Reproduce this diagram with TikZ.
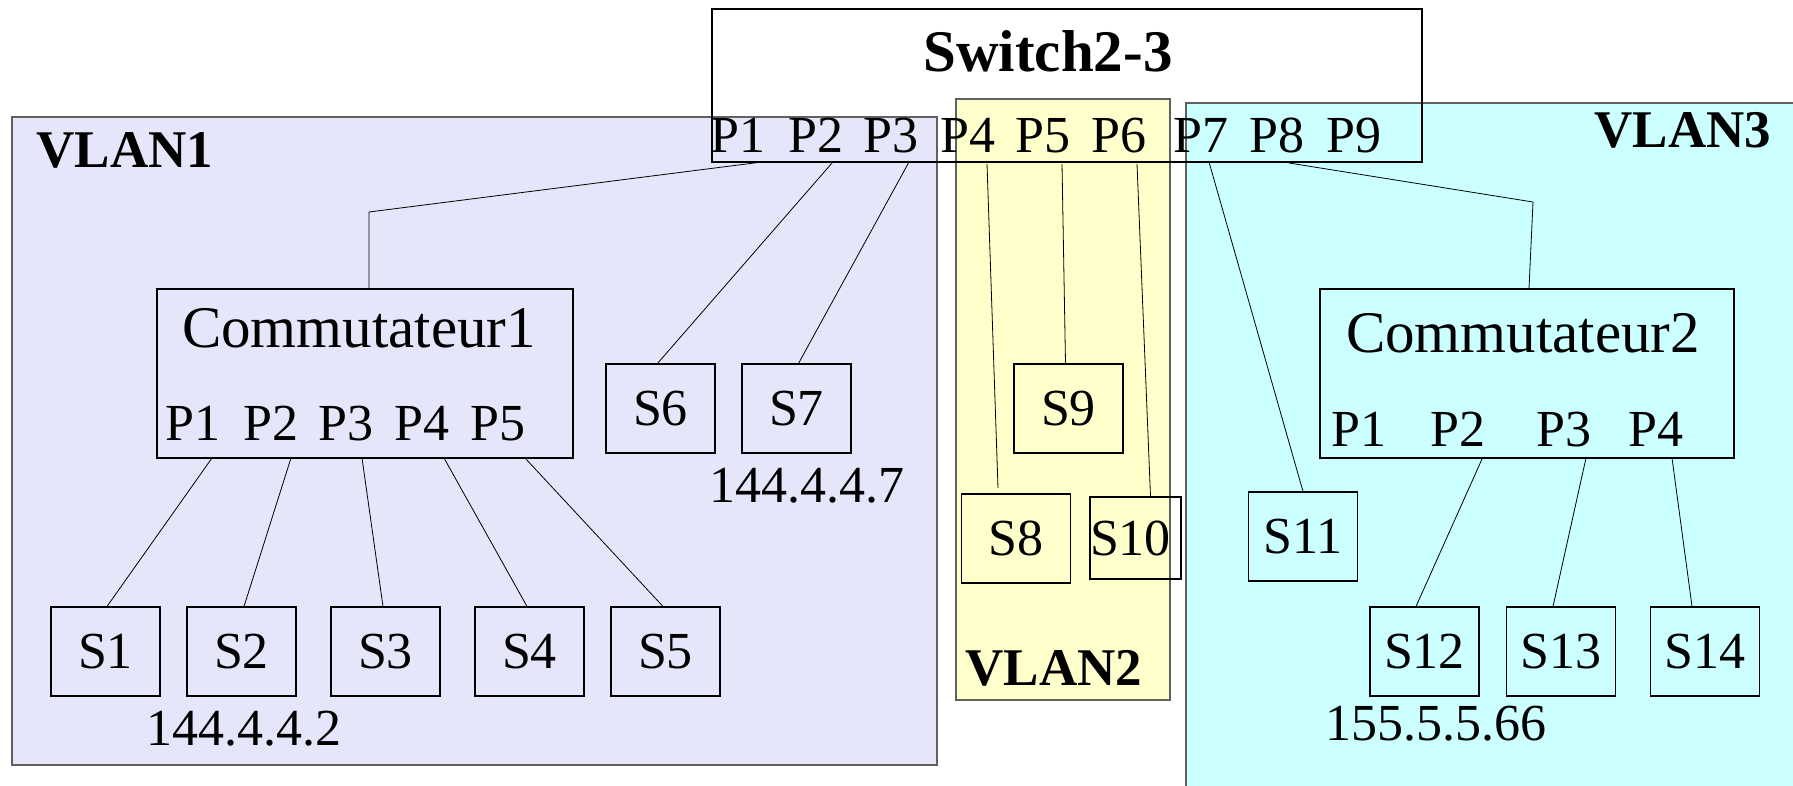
\documentclass[tikz,border=0pt]{standalone}
\usepackage{fontspec}
\setmainfont{Liberation Serif}
\definecolor{v1fill}{HTML}{E6E6FA}
\definecolor{v2fill}{HTML}{FFFFCC}
\definecolor{v3fill}{HTML}{CCFFFF}
\definecolor{vborder}{HTML}{606060}
\begin{document}
\begin{tikzpicture}[x=1pt,y=-1pt,
  vlan/.style={draw=vborder,line width=1.4pt,inner sep=0pt},
  box/.style={draw=black,line width=1.1pt,inner sep=0pt,rectangle},
  sbox/.style={box,minimum width=109pt,minimum height=89pt,font=\fontsize{52}{60}\selectfont},
  lbl/.style={inner sep=0pt,anchor=base,font=\fontsize{52}{60}\selectfont},
  big/.style={inner sep=0pt,anchor=base,font=\fontsize{59}{66}\selectfont},
  bigb/.style={inner sep=0pt,anchor=base,font=\fontsize{59}{66}\selectfont\bfseries},
  vl/.style={inner sep=0pt,anchor=base,font=\fontsize{53}{60}\selectfont\bfseries},
  link/.style={draw=black,line width=0.8pt}]
\useasboundingbox (0,0) rectangle (1793,786);
\fill[white] (0,0) rectangle (1793,786);
% VLAN areas
\node[vlan,fill=v1fill,minimum width=925pt,minimum height=648pt] (vlan1) at (474.5,441) {};
\node[vlan,fill=v2fill,minimum width=214pt,minimum height=601pt] (vlan2) at (1063,399.5) {};
\node[vlan,fill=v3fill,minimum width=640pt,minimum height=720pt] (vlan3) at (1506,463) {};
\node[vl] (vlan1t) at (125,168) {VLAN1};
\node[vl] (vlan2t) at (1054,685) {VLAN2};
\node[vl] (vlan3t) at (1683,148) {VLAN3};
% Switch
\node[box,minimum width=710pt,minimum height=153pt] (sw) at (1067,85.5) {};
\node[bigb] (swt) at (1048,72) {Switch2-3};
\foreach \n/\x in {1/738,2/816,3/891,4/968,5/1043,6/1119,7/1201,8/1277,9/1354}
  \node[lbl] (swl\n) at (\x,153) {P\n};
% Commutateur1
\node[box,minimum width=416pt,minimum height=169pt] (c1) at (365,373.5) {};
\node[big] (c1t) at (359,347) {Commutateur1};
\foreach \n/\x in {1/193,2/271,3/346,4/422,5/498}
  \node[lbl] (c1l\n) at (\x,440) {P\n};
% Commutateur2
\node[box,minimum width=414pt,minimum height=169pt] (c2) at (1527,373.5) {};
\node[big] (c2t) at (1523,352) {Commutateur2};
\foreach \n/\x in {1/1359,2/1458,3/1564,4/1656}
  \node[lbl] (c2l\n) at (\x,446) {P\n};
% stations
\node[sbox] (s1) at (105.5,651.5) {S1};
\node[sbox] (s2) at (241.5,651.5) {S2};
\node[sbox] (s3) at (385.5,651.5) {S3};
\node[sbox] (s4) at (529.5,651.5) {S4};
\node[sbox] (s5) at (665.5,651.5) {S5};
\node[sbox] (s6) at (660.5,408.5) {S6};
\node[sbox] (s7) at (796.5,408.5) {S7};
\node[sbox] (s8) at (1016,538.5) {S8};
\node[sbox] (s9) at (1068.5,408.5) {S9};
\node[sbox,minimum width=91pt,minimum height=82pt] (s10) at (1135.5,538) {\hspace*{-10pt}S10};
\node[sbox] (s11) at (1303,536.5) {S11};
\node[sbox] (s12) at (1424.5,651.5) {S12};
\node[sbox] (s13) at (1561,651.5) {S13};
\node[sbox] (s14) at (1705,651.5) {S14};
\node[lbl] (ip2) at (244,745) {144.4.4.2};
\node[lbl] (ip7) at (807,502) {144.4.4.7};
\node[lbl] (ip12) at (1436,740) {155.5.5.66};
% connection points
\coordinate (swp1) at (762,162);
\coordinate (swp2) at (832,163);
\coordinate (swp3) at (909,162);
\coordinate (swp4) at (987,164);
\coordinate (swp5) at (1062,164);
\coordinate (swp6) at (1137,164);
\coordinate (swp7) at (1209,162);
\coordinate (swp8) at (1289,163);
\coordinate (bend1) at (369,212);
\coordinate (bend2) at (1533,202);
\coordinate (s8end) at (998,488);
\coordinate (c1p1) at (212,458);
\coordinate (c1p2) at (291,458);
\coordinate (c1p3) at (362,458);
\coordinate (c1p4) at (444,458);
\coordinate (c1p5) at (525,458);
\coordinate (c2p2) at (1482,459);
\coordinate (c2p3) at (1586,458);
\coordinate (c2p4) at (1672,458);
% connectors
\draw[link] (swp1) -- (bend1) -- (c1.north -| bend1);
\draw[link] (swp2) -- ([xshift=-3pt]s6.north);
\draw[link] (swp3) -- ([xshift=2pt]s7.north);
\draw[link] (swp4) -- (s8end);
\draw[link] (swp5) -- ([xshift=-3pt]s9.north);
\draw[link] (swp6) -- ([xshift=15pt]s10.north);
\draw[link] (swp7) -- (s11.north);
\draw[link] (swp8) -- (bend2) -- ([xshift=-4pt]c2.north -| bend2);
\draw[link] (c1p1) -- ([xshift=1.5pt]s1.north);
\draw[link] (c1p2) -- ([xshift=2.5pt]s2.north);
\draw[link] (c1p3) -- ([xshift=-2.5pt]s3.north);
\draw[link] (c1p4) -- ([xshift=-2.5pt]s4.north);
\draw[link] (c1p5) -- ([xshift=-2.5pt]s5.north);
\draw[link] (c2p2) -- ([xshift=-8.5pt]s12.north);
\draw[link] (c2p3) -- ([xshift=-8pt]s13.north);
\draw[link] (c2p4) -- ([xshift=-13pt]s14.north);
\end{tikzpicture}
\end{document}
